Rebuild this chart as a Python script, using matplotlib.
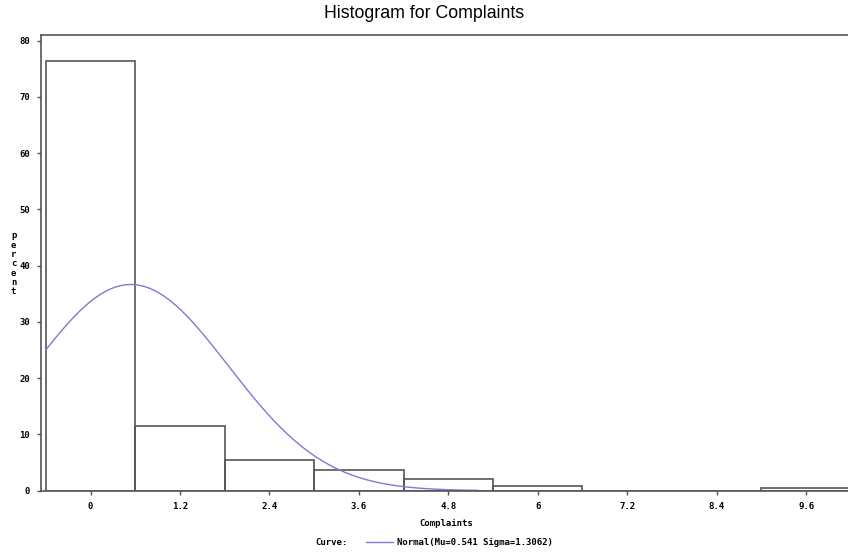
import matplotlib
matplotlib.use("Agg")
import matplotlib.pyplot as plt
import numpy as np

# bin midpoints and percent per bin
midpoints = [0, 1.2, 2.4, 3.6, 4.8, 6.0, 7.2, 8.4, 9.6]
percents = [76.4, 11.5, 5.4, 3.7, 2.1, 0.9, 0, 0, 0.4]
xtick_labels = ["0", "1.2", "2.4", "3.6", "4.8", "6", "7.2", "8.4", "9.6"]
mu = 0.541
sigma = 1.3062
bin_width = 1.2

fig = plt.figure(figsize=(8.48, 5.52), dpi=100)
ax = fig.add_axes([0.0483, 0.111, 0.955, 0.8256])

ax.bar(midpoints, percents, width=bin_width, fill=False,
       edgecolor="#555555", linewidth=1.2)

# fitted normal curve, scaled to percent per bin
xs = np.linspace(-0.6, 5.2, 300)
ys = 100 * bin_width * np.exp(-0.5 * ((xs - mu) / sigma) ** 2) / (sigma * np.sqrt(2 * np.pi))
ax.plot(xs, ys, color="#7b7bd6", linewidth=1)

ax.set_xlim(-0.665, 10.2)
ax.set_ylim(0, 81)
ax.set_xticks(midpoints)
ax.set_xticklabels(xtick_labels)
ax.set_yticks(range(0, 81, 10))

tick_font = dict(family="DejaVu Sans Mono", weight="bold", size=6.5)
for lab in ax.get_xticklabels() + ax.get_yticklabels():
    lab.set_fontfamily(tick_font["family"])
    lab.set_fontweight(tick_font["weight"])
    lab.set_fontsize(tick_font["size"])
ax.tick_params(direction="out", length=3, width=1, color="#555555", pad=5)

for s in ax.spines.values():
    s.set_color("#555555")
    s.set_linewidth(1.2)
ax.spines["right"].set_visible(False)

fig.text(0.5, 0.975, "Histogram for Complaints", ha="center", va="center",
         fontsize=12.8, family="Liberation Sans")
fig.text(0.526, 0.051, "Complaints", ha="center", va="center", **tick_font)
fig.text(0.016, 0.522, "\n".join("percent"), ha="center", va="center",
         linespacing=1.05, **tick_font)

# legend row at the bottom
fig.text(0.372, 0.018, "Curve:", ha="left", va="center", **tick_font)
fig.add_artist(plt.Line2D([0.432, 0.463], [0.019, 0.019], color="#7b7bd6",
                          linewidth=1, transform=fig.transFigure))
fig.text(0.468, 0.018, "Normal(Mu=0.541 Sigma=1.3062)", ha="left", va="center",
         **tick_font)

fig.savefig("out.png", dpi=100)
